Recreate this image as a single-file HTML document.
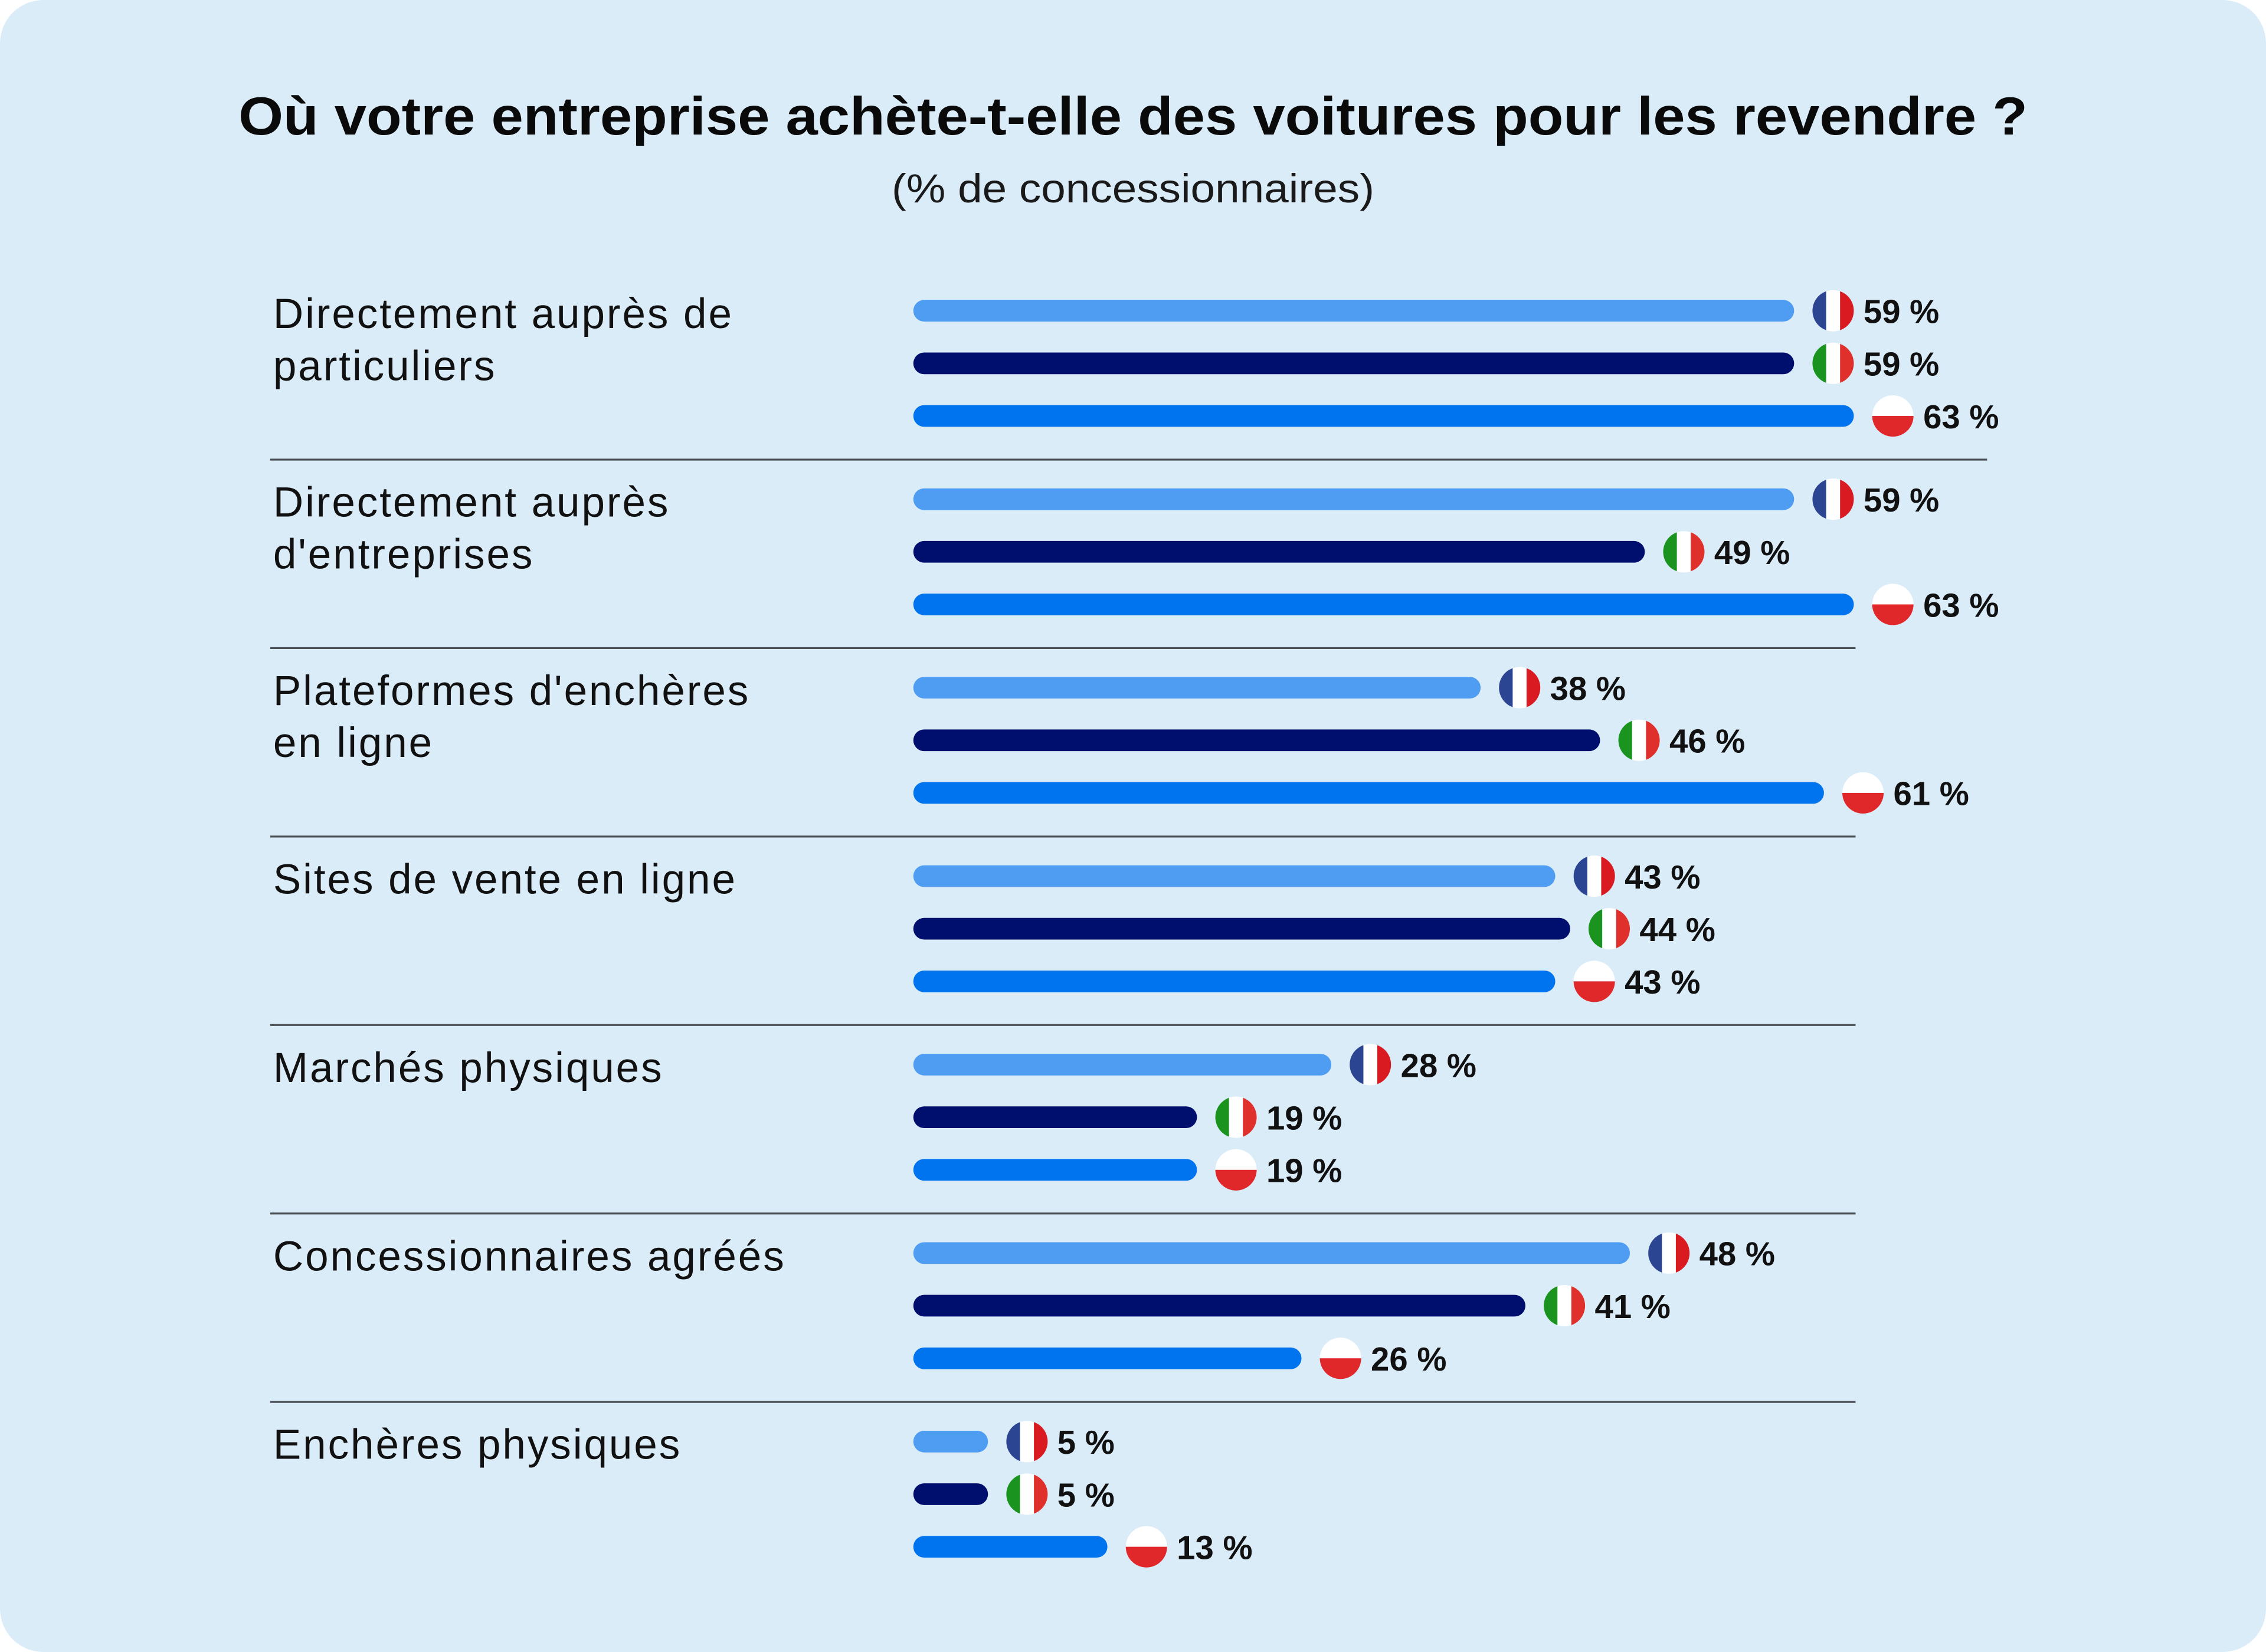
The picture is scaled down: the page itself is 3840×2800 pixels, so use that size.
<!DOCTYPE html>
<html><head><meta charset="utf-8">
<style>
html,body{margin:0;padding:0;background:#ffffff;}
svg{display:block;}
text{font-family:"Liberation Sans",sans-serif;}
</style></head>
<body>
<svg id="chart" width="3840" height="2800" viewBox="0 0 1568 1143" preserveAspectRatio="none" xmlns="http://www.w3.org/2000/svg">
  <defs>
    <clipPath id="fc"><circle cx="0" cy="0" r="14.3"/></clipPath>
  </defs>
  <rect x="0" y="0" width="1568" height="1143" rx="30" fill="#dbecf9"/>
  <text x="784" y="93" text-anchor="middle" font-size="37" font-weight="bold" fill="#0a0a0a" textLength="1238" lengthAdjust="spacingAndGlyphs">Où votre entreprise achète-t-elle des voitures pour les revendre ?</text>
  <text x="784" y="140" text-anchor="middle" font-size="28" fill="#1a1a1a" textLength="334" lengthAdjust="spacingAndGlyphs">(% de concessionnaires)</text>
  <g id="plot"></g>
</svg>
<script>
const categories = [
  ["Directement auprès de","particuliers"],
  ["Directement auprès","d'entreprises"],
  ["Plateformes d'enchères","en ligne"],
  ["Sites de vente en ligne"],
  ["Marchés physiques"],
  ["Concessionnaires agréés"],
  ["Enchères physiques"]
];
const franceValues = [59,59,38,43,28,48,5];
const italyValues  = [59,49,46,44,19,41,5];
const polandValues = [63,63,61,43,19,26,13];
const seriesNames = ["france","italy","poland"];

const NS = "http://www.w3.org/2000/svg";
const plot = document.getElementById("plot");
const x0 = 632, pxPerPct = 10.33;
const xScale = v => v * pxPerPct;
const groupY = i => 215 + i * 130.4;
const rowY = (i, j) => groupY(i) + j * 36.4;
const colors = ["#4f9df2", "#000e6e", "#0073ee"];

function mk(tag, attrs){ const e=document.createElementNS(NS,tag); for(const k in attrs) e.setAttribute(k,attrs[k]); return e; }

function flag(g, kind, cx, cy){
  const f = mk("g",{transform:`translate(${cx},${cy})`,"clip-path":"url(#fc)"});
  if(kind==="poland"){
    f.appendChild(mk("rect",{x:-15,y:-15,width:30,height:15,fill:"#ffffff"}));
    f.appendChild(mk("rect",{x:-15,y:0,width:30,height:15,fill:"#e0282a"}));
  } else {
    const c = kind==="france" ? ["#2c4593","#ffffff","#d91a21"] : ["#1a941f","#ffffff","#e0302c"];
    f.appendChild(mk("rect",{x:-15,y:-15,width:10.2,height:30,fill:c[0]}));
    f.appendChild(mk("rect",{x:-4.8,y:-15,width:9.6,height:30,fill:c[1]}));
    f.appendChild(mk("rect",{x:4.8,y:-15,width:10.2,height:30,fill:c[2]}));
  }
  g.appendChild(f);
}

const all = [franceValues, italyValues, polandValues];
categories.forEach((lines, i) => {
  const grp = mk("g",{});
  
  
  lines.forEach((ln, k) => {
    const t = mk("text",{x:189, y:groupY(i) + 12 + k*36, "font-size":29, "letter-spacing":1.2, fill:"#111"});
    
    
    t.textContent = ln;
    grp.appendChild(t);
  });
  all.forEach((vals, j) => {
    const v = vals[i], y = rowY(i, j), w = xScale(v);
    const r = mk("rect",{x:x0, y:y-7.5, width:w, height:15, rx:7.5, fill:colors[j]});
    
    
    grp.appendChild(r);
    const fg = mk("g",{});
    
    
    flag(fg, seriesNames[j], x0 + w + 27, y);
    grp.appendChild(fg);
    const t = mk("text",{x:x0 + w + 48, y:y + 8.5, "font-size":23, "font-weight":"bold", fill:"#111"});
    
    
    t.textContent = v + " %";
    grp.appendChild(t);
  });
  if(i < categories.length - 1){
    const ly = groupY(i) + 103;
    const l = mk("line",{x1:187, x2:(i===0?1375:1284), y1:ly, y2:ly, stroke:"#4a4f55", "stroke-width":1.3});
    
    
    grp.appendChild(l);
  }
  plot.appendChild(grp);
});
</script>
</body></html>
